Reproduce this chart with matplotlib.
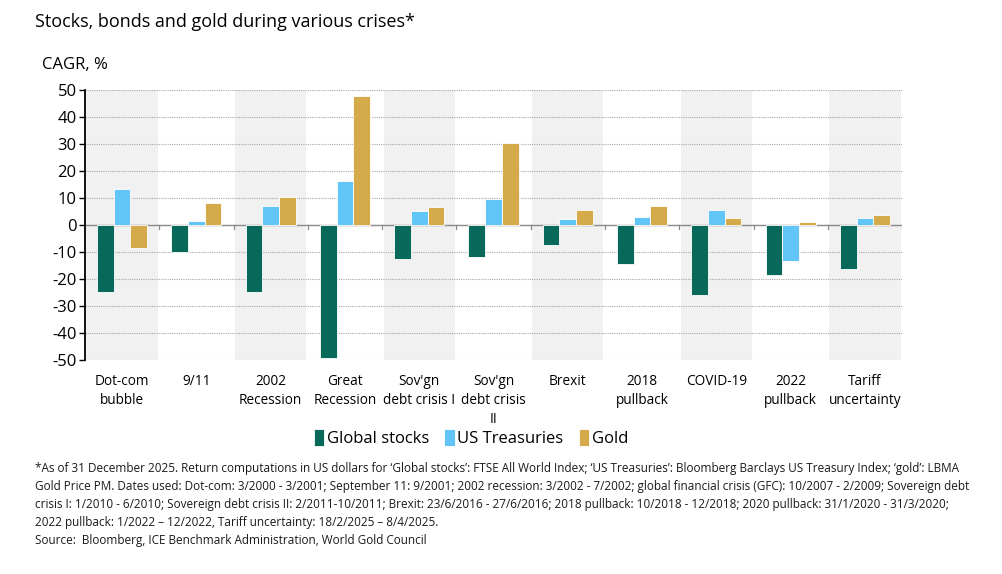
import numpy as np
import matplotlib
matplotlib.use('Agg')
import matplotlib.pyplot as plt

plt.rcParams['font.family'] = ['Open Sans', 'DejaVu Sans']
plt.rcParams['axes.unicode_minus'] = False

# crisis labels and CAGR values (%)
crises = ['Dot-com\nbubble', '9/11', '2002\nRecession', 'Great\nRecession',
          "Sov'gn\ndebt crisis I", "Sov'gn\ndebt crisis\nII", 'Brexit',
          '2018\npullback', 'COVID-19', '2022\npullback', 'Tariff\nuncertainty']
global_stocks = [-24.7, -9.9, -24.9, -49.4, -12.7, -12.0, -7.5, -14.4, -26.0, -18.4, -16.3]
us_treasuries = [13.3, 1.6, 7.2, 16.4, 5.2, 9.6, 2.1, 3.1, 5.4, -13.2, 2.5]
gold = [-8.4, 8.1, 10.2, 47.8, 6.7, 30.4, 5.4, 7.2, 2.5, 1.0, 3.6]

series_names = ['Global stocks', 'US Treasuries', 'Gold']
colors = ['#08695a', '#62c5f8', '#d5aa4b']

fig = plt.figure(figsize=(10.02, 5.74), dpi=100)
ax = fig.add_axes([0.0848, 0.3728, 0.8155, 0.4704])

x = np.arange(len(crises))
w = 0.225

# alternating shaded bands
for i in range(0, len(crises), 2):
    ax.axvspan(i - 0.48, i + 0.48, color='#f1f1f1', zorder=0, lw=0)

for k, (vals, name, c) in enumerate(zip([global_stocks, us_treasuries, gold], series_names, colors)):
    ax.bar(x + (k - 1) * w, vals, width=w, color=c, edgecolor='white', linewidth=0.6,
           label=name, zorder=3)

ax.set_xlim(-0.5, len(crises) - 0.5)
ax.set_ylim(-50, 50)
ax.set_yticks(range(-50, 51, 10))
ax.yaxis.grid(True, color='#a8a8a8', linestyle=(0, (1, 1)), linewidth=0.8, zorder=1)
ax.set_axisbelow(True)

# zero line with small ticks at category boundaries
ax.axhline(0, color='#8c8c8c', linewidth=1.0, zorder=2)
for b in np.arange(0.5, len(crises), 1.0):
    ax.plot([b, b], [0, -1.4], color='#8c8c8c', linewidth=0.9, zorder=2)

for s in ['top', 'right', 'bottom']:
    ax.spines[s].set_visible(False)
ax.spines['left'].set_color('black')
ax.spines['left'].set_linewidth(1.3)
ax.tick_params(axis='y', length=4, width=1, labelsize=12, colors='black', pad=2)
ax.tick_params(axis='x', length=0)
ax.set_xticks([])

for i, lab in enumerate(crises):
    ax.text(i, -55, lab, ha='center', va='top', fontsize=9.8, linespacing=1.4)

fig.text(0.035, 0.962, 'Stocks, bonds and gold during various crises*', fontsize=13,
         ha='left', va='center')
fig.text(0.042, 0.887, 'CAGR, %', fontsize=12, ha='left', va='center')

leg = fig.legend(loc='center', bbox_to_anchor=(0.47, 0.237), ncol=3, frameon=False,
                 fontsize=12, handlelength=0.65, handleheight=1.15, handletextpad=0.15,
                 columnspacing=0.9)

footnote = ("*As of 31 December 2025. Return computations in US dollars for \u2018Global stocks\u2019: FTSE All World Index; \u2018US Treasuries\u2019: Bloomberg Barclays US Treasury Index; \u2018gold\u2019: LBMA\n"
            "Gold Price PM. Dates used: Dot-com: 3/2000 - 3/2001; September 11: 9/2001; 2002 recession: 3/2002 - 7/2002; global financial crisis (GFC): 10/2007 - 2/2009; Sovereign debt\n"
            "crisis I: 1/2010 - 6/2010; Sovereign debt crisis II: 2/2011-10/2011; Brexit: 23/6/2016 - 27/6/2016; 2018 pullback: 10/2018 - 12/2018; 2020 pullback: 31/1/2020 - 31/3/2020;\n"
            "2022 pullback: 1/2022 \u2013 12/2022, Tariff uncertainty: 18/2/2025 \u2013 8/4/2025.\n"
            "Source:  Bloomberg, ICE Benchmark Administration, World Gold Council")
fig.text(0.035, 0.195, footnote, fontsize=8.5, ha='left', va='top', linespacing=1.5,
         color='#1a1a1a')

fig.savefig('out.png', dpi=100)
